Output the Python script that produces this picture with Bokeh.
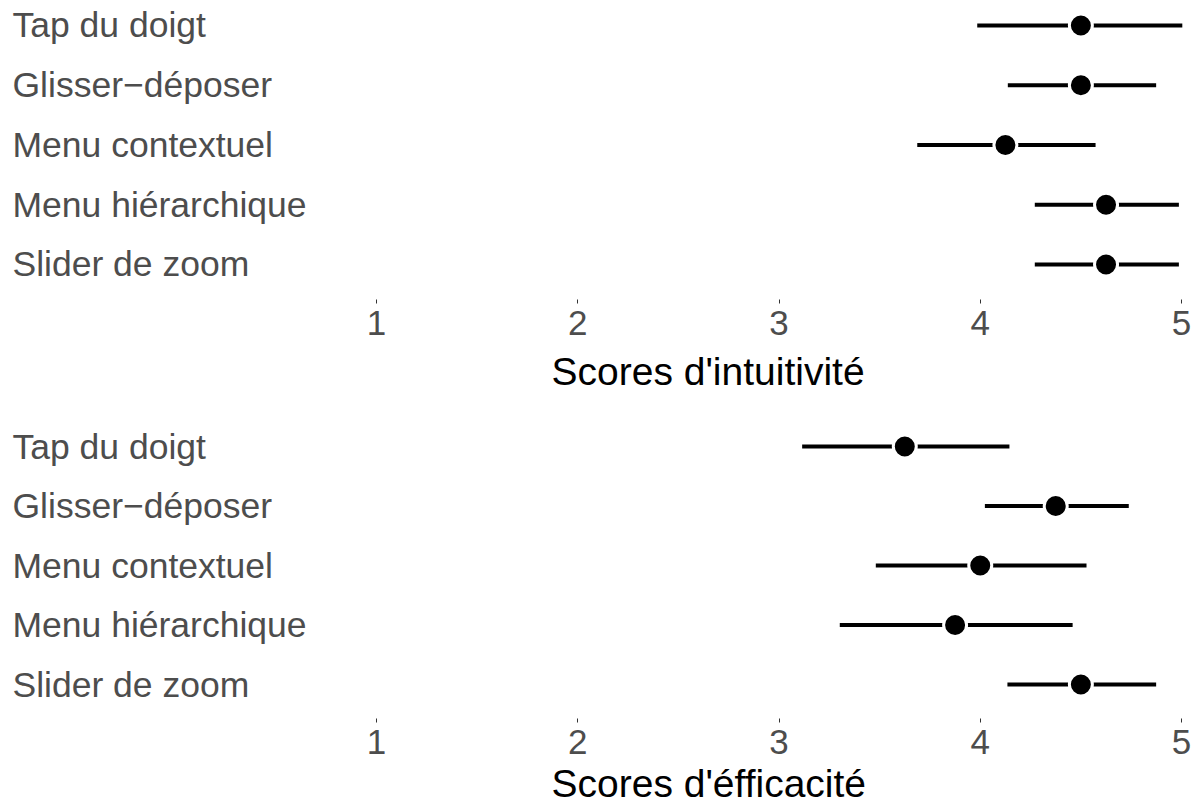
from bokeh.plotting import figure
from bokeh.layouts import column
from bokeh.models import FixedTicker, ColumnDataSource, Range1d, Title
from bokeh.core.properties import value
from bokeh.embed import file_html
from bokeh.resources import INLINE

# ---- data ----
categories = ["Tap du doigt", "Glisser\u2212déposer", "Menu contextuel",
              "Menu hiérarchique", "Slider de zoom"]

intu_mean = [4.500, 4.500, 4.125, 4.625, 4.625]
intu_low = [3.985, 4.137, 3.687, 4.271, 4.271]
intu_high = [5.004, 4.874, 4.573, 4.987, 4.987]

effi_mean = [3.625, 4.375, 4.000, 3.875, 4.500]
effi_low = [3.115, 4.023, 3.481, 3.302, 4.135]
effi_high = [4.145, 4.738, 4.528, 4.459, 4.874]

x_ticks = [1, 2, 3, 4, 5]
tick_labels = ["1", "2", "3", "4", "5"]

titles = ["Scores d'intuitivité", "Scores d'éfficacité"]

FONT = "Liberation Sans"
GREY = "#4D4D4D"


def panel(title, means, lows, highs, frame_h, y_start, y_end, bottom, t_standoff):
    n = len(categories)
    ys = [n - i for i in range(n)]
    src = ColumnDataSource(dict(cat=categories, y=ys, m=means, lo=lows, hi=highs))
    p = figure(frame_width=1200, frame_height=frame_h, output_backend="svg",
               toolbar_location=None, x_axis_location="below", y_axis_location=None,
               x_range=Range1d(-0.86832, 5.0944), y_range=Range1d(y_start, y_end),
               min_border_left=0, min_border_right=0, min_border_top=0,
               min_border_bottom=bottom)
    p.outline_line_color = None
    p.grid.visible = False
    p.background_fill_color = "white"
    p.border_fill_color = "white"

    p.segment(x0="lo", x1="hi", y0="y", y1="y", source=src,
              line_color="black", line_width=4, line_cap="butt")
    p.scatter(x="m", y="y", source=src, size=23, marker="circle",
              fill_color="black", line_color="white", line_width=3)

    src_lab = ColumnDataSource(dict(cat=categories, y=ys,
                                    x=[p.x_range.start] * n))
    p.text(x="x", y="y", text="cat", source=src_lab, x_offset=12,
           text_align="left", text_baseline="middle",
           text_font=value(FONT), text_font_size="35.5px", text_color=GREY)

    ax = p.xaxis[0]
    ax.ticker = FixedTicker(ticks=x_ticks)
    ax.major_label_overrides = {t: l for t, l in zip(x_ticks, tick_labels)}
    ax.axis_line_color = None
    ax.major_tick_in = 0
    ax.major_tick_out = 4
    ax.major_tick_line_color = "#333333"
    ax.minor_tick_line_color = None
    ax.major_label_standoff = 7
    ax.major_label_text_font = FONT
    ax.major_label_text_font_size = "35px"
    ax.major_label_text_color = GREY

    t = Title(text=title, align="left", offset=551, vertical_align="top",
              standoff=t_standoff, text_font=FONT, text_font_size="39px",
              text_font_style="normal", text_color="black")
    p.add_layout(t, "below")
    return p


p1 = panel(titles[0], intu_mean, intu_low, intu_high, 299, 0.4142, 5.4184, 121, 24)
p2 = panel(titles[1], effi_mean, effi_low, effi_high, 298, 0.4286, 5.437, 87, 10)

layout = column(p1, p2, spacing=0)
open("out.html", "w").write(file_html(layout, INLINE))
